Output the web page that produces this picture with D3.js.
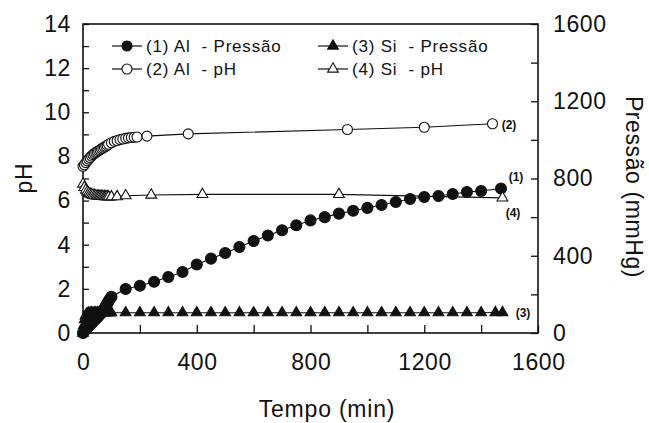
<!DOCTYPE html>
<html>
<head>
<meta charset="utf-8">
<script src="https://cdn.jsdelivr.net/npm/d3@7"></script>
<style>
  body { margin: 0; background: #fff; }
  svg { font-family: "Liberation Sans", Arial, sans-serif; }
  .pre { white-space: pre; }
</style>
</head>
<body>
<svg id="chart" width="649" height="423"></svg>
<script>
// (1) Al - Pressão (mmHg, right axis)
const alPressureTime = [0, 5, 10, 15, 20, 25, 30, 35, 40, 45, 50, 55, 60, 65, 70, 75, 80, 85, 90, 95, 100,
  150, 200, 250, 300, 350, 400, 450, 500, 550, 600, 650, 700, 750, 800, 850, 900, 950, 1000,
  1050, 1100, 1150, 1200, 1250, 1300, 1350, 1400, 1470];
const alPressure = [0, 10, 18, 26, 34, 42, 50, 58, 66, 73, 80, 88, 96, 105, 115, 127, 140, 152, 165, 177, 188,
  228, 245, 265, 290, 316, 355, 385, 414, 445, 476, 505, 532, 558, 583, 600, 618, 633, 648,
  663, 678, 694, 704, 709, 720, 730, 735, 748];

// (2) Al - pH (left axis)
const alPhTime = [0, 5, 10, 15, 20, 25, 30, 35, 40, 45, 50, 55, 60, 65, 70, 75, 80, 85, 90, 100, 110, 120,
  130, 140, 150, 160, 170, 180, 190, 225, 370, 930, 1200, 1440];
const alPh = [7.55, 7.62, 7.72, 7.8, 7.88, 7.95, 8.02, 8.08, 8.13, 8.18, 8.22, 8.26, 8.3, 8.34, 8.38, 8.42,
  8.46, 8.5, 8.55, 8.62, 8.68, 8.72, 8.76, 8.79, 8.82, 8.84, 8.86, 8.87, 8.88, 8.92, 9.02, 9.22, 9.32, 9.48];

// (3) Si - Pressão (mmHg, right axis)
const siPressureTime = [0, 3, 6, 9, 12, 15, 20, 25, 30, 35, 40, 45, 50, 55, 60, 65, 70, 75, 80, 85, 90, 95, 100,
  150, 200, 250, 300, 350, 400, 450, 500, 550, 600, 650, 700, 750, 800, 850, 900, 950, 1000,
  1050, 1100, 1150, 1200, 1250, 1300, 1350, 1400, 1450, 1475];
const siPressure = [0, 40, 70, 88, 97, 101, 103, 104, 104, 104, 105, 105, 105, 105, 105, 105, 105, 105, 105, 105, 105, 105, 105,
  105, 105, 105, 105, 105, 105, 105, 105, 105, 105, 105, 105, 105, 105, 105, 105, 105, 105,
  105, 105, 105, 105, 105, 105, 105, 105, 106, 106];

// (4) Si - pH (left axis)
const siPhTime = [0, 5, 10, 15, 20, 25, 30, 35, 40, 45, 50, 55, 60, 65, 70, 75, 80, 85, 90, 100, 120,
  150, 240, 420, 900, 1475];
const siPh = [6.75, 6.6, 6.48, 6.4, 6.34, 6.3, 6.27, 6.25, 6.23, 6.22, 6.21, 6.2, 6.2, 6.19, 6.19, 6.18,
  6.18, 6.18, 6.17, 6.17, 6.18, 6.22, 6.25, 6.28, 6.28, 6.12];

const legendLabels = ["(1) Al  - Pressão", "(2) Al  - pH", "(3) Si  - Pressão", "(4) Si  - pH"];
const endLabels = ["(1)", "(2)", "(3)", "(4)"];

const svg = d3.select("#chart");
const margin = { left: 83, right: 111, top: 24, bottom: 90 };
const W = 649, H = 423;
const ink = "#111";

const x = d3.scaleLinear().domain([0, 1600]).range([margin.left, W - margin.right]);
const yPh = d3.scaleLinear().domain([0, 14]).range([H - margin.bottom, margin.top]);
const yP = d3.scaleLinear().domain([0, 1600]).range([H - margin.bottom, margin.top]);

const zip = (t, v) => t.map((d, i) => ({ t: d, v: v[i] }));
const series = [
  { id: 1, data: zip(alPressureTime, alPressure), y: yP, shape: "circle", fill: ink },
  { id: 2, data: zip(alPhTime, alPh), y: yPh, shape: "circle", fill: "#fff" },
  { id: 3, data: zip(siPressureTime, siPressure), y: yP, shape: "triangle", fill: ink },
  { id: 4, data: zip(siPhTime, siPh), y: yPh, shape: "triangle", fill: "#fff" }
];

// axes
const axisStyle = g => {
  g.select(".domain").remove();
  g.selectAll("line").attr("stroke", ink).attr("stroke-width", 1.3);
  g.selectAll("text").attr("font-size", 23).attr("letter-spacing", 0.6).attr("fill", ink)
    .attr("font-family", "'Liberation Sans', Arial, sans-serif");
};

svg.append("g")
  .attr("transform", `translate(${margin.left},0)`)
  .call(d3.axisLeft(yPh).tickValues(d3.range(0, 15)).tickSize(-6).tickPadding(12)
    .tickFormat(d => d % 2 ? "" : d))
  .call(axisStyle);

svg.append("g")
  .attr("transform", `translate(${W - margin.right},0)`)
  .call(d3.axisRight(yP).tickValues(d3.range(0, 1601, 200)).tickSize(-7).tickPadding(15)
    .tickFormat(d => d % 400 ? "" : d))
  .call(axisStyle);

svg.append("g")
  .attr("transform", `translate(0,${H - margin.bottom})`)
  .call(d3.axisBottom(x).tickValues(d3.range(0, 1601, 200)).tickSize(-8).tickPadding(21)
    .tickFormat(d => d % 400 ? "" : d))
  .call(axisStyle)
  .call(g => g.selectAll("text").attr("dx", "0.3"));

// frame
svg.append("rect")
  .attr("x", margin.left).attr("y", margin.top)
  .attr("width", W - margin.left - margin.right)
  .attr("height", H - margin.top - margin.bottom)
  .attr("fill", "none").attr("stroke", ink).attr("stroke-width", 1.6);

// titles
svg.append("text").text("Tempo (min)")
  .attr("x", 327).attr("y", 417).attr("text-anchor", "middle")
  .attr("font-size", 23).attr("letter-spacing", 0.8).attr("fill", ink);
svg.append("text").text("pH")
  .attr("transform", "translate(32,178) rotate(-90)").attr("text-anchor", "middle")
  .attr("font-size", 23).attr("letter-spacing", 0.8).attr("fill", ink);
svg.append("text").text("Pressão (mmHg)")
  .attr("transform", "translate(626,187) rotate(90)").attr("text-anchor", "middle")
  .attr("font-size", 23).attr("letter-spacing", 0.6).attr("fill", ink);

// marks
const tri = d3.symbol().type(d3.symbolTriangle).size(50);
function drawMarker(sel, s, r) {
  if (s.shape === "circle") {
    sel.append("circle").attr("r", r)
      .attr("fill", s.fill).attr("stroke", ink).attr("stroke-width", 1.1);
  } else {
    sel.append("path").attr("d", tri)
      .attr("fill", s.fill).attr("stroke", ink).attr("stroke-width", 1.1);
  }
}

const line = yScale => d3.line().x(d => x(d.t)).y(d => yScale(d.v));

const plot = svg.append("g");
series.forEach(s => {
  const g = plot.append("g").attr("class", "series s" + s.id);
  g.append("path").datum(s.data)
    .attr("d", line(s.y))
    .attr("fill", "none").attr("stroke", ink).attr("stroke-width", 1.1);
  g.selectAll(".pt")
    .data(s.data)
    .join("g")
    .attr("class", "pt")
    .attr("transform", d => `translate(${x(d.t)},${s.y(d.v)})`)
    .each(function () { drawMarker(d3.select(this), s, s.id === 1 ? 5.5 : 5); });
});

// series end labels
const endPos = [[516, 177], [509, 125], [523, 313], [513, 213]];
svg.selectAll(".endlab")
  .data(endLabels)
  .join("text")
  .attr("class", "endlab")
  .attr("x", (d, i) => endPos[i][0]).attr("y", (d, i) => endPos[i][1])
  .attr("dy", "0.35em").attr("text-anchor", "middle")
  .attr("font-size", 12).attr("font-weight", "bold").attr("fill", ink)
  .text(d => d);

// legend
const legendPos = [[127, 46], [127, 69], [333, 46], [333, 69]];
const legend = svg.selectAll(".leg")
  .data(series)
  .join("g")
  .attr("class", "leg")
  .attr("transform", (d, i) => `translate(${legendPos[i][0]},${legendPos[i][1]})`);
legend.append("line").attr("x1", -15).attr("x2", 15)
  .attr("stroke", ink).attr("stroke-width", 1.2);
legend.each(function (s) { drawMarker(d3.select(this), s, 5); });
legend.append("text")
  .attr("class", "pre")
  .attr("x", 19).attr("dy", "0.36em")
  .attr("font-size", 17).attr("letter-spacing", 0.8).attr("fill", ink)
  .text((d, i) => legendLabels[i]);
</script>
</body>
</html>
